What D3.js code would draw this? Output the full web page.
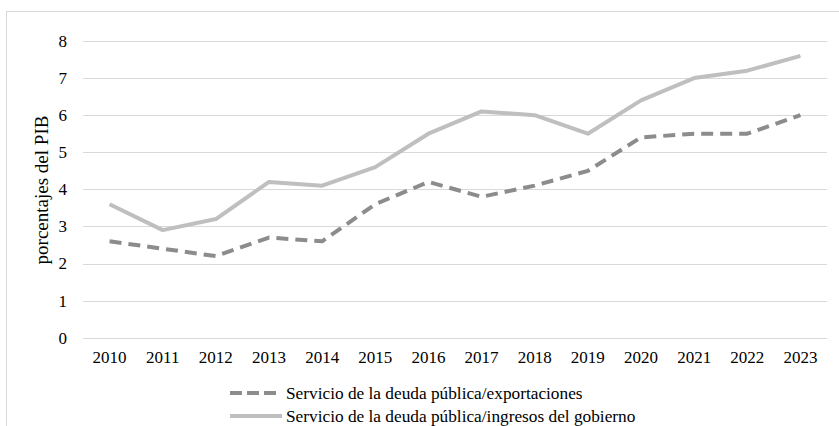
<!DOCTYPE html>
<html><head><meta charset="utf-8">
<script src="https://cdn.jsdelivr.net/npm/d3@7"></script>
<style>html,body{margin:0;padding:0;background:#fff;}svg{display:block;} svg text{font-family:"Liberation Serif","Times New Roman",serif !important;}</style>
</head><body>
<svg id="chart" width="839" height="426"></svg>
<script>
const years = ["2010","2011","2012","2013","2014","2015","2016","2017","2018","2019","2020","2021","2022","2023"];
const exportaciones = [2.6,2.4,2.2,2.7,2.6,3.6,4.2,3.8,4.1,4.5,5.4,5.5,5.5,6.0];
const ingresos = [3.6,2.9,3.2,4.2,4.1,4.6,5.5,6.1,6.0,5.5,6.4,7.0,7.2,7.6];
const yTicks = [0,1,2,3,4,5,6,7,8];
const seriesNames = ["Servicio de la deuda pública/exportaciones","Servicio de la deuda pública/ingresos del gobierno"];
const yLabel = "porcentajes del PIB";

const svg = d3.select("#chart");
svg.append("rect").attr("x",6.5).attr("y",11.5).attr("width",845).attr("height",440)
  .attr("fill","#fff").attr("stroke","#d9d9d9").attr("stroke-width",1);

const x = d3.scaleBand().domain(years).range([83,827]);
const y = d3.scaleLinear().domain([0,8]).range([337.7,41]);

svg.append("g").selectAll("line").data(yTicks).join("line")
  .attr("x1",83).attr("x2",827)
  .attr("y1",d=>Math.round(y(d))+0.5).attr("y2",d=>Math.round(y(d))+0.5)
  .attr("stroke","#d9d9d9").attr("stroke-width",1);

const yAxis = d3.axisLeft(y).tickValues(yTicks).tickSize(0).tickPadding(0).tickFormat(d3.format("d"));
const yg = svg.append("g").attr("transform","translate(67,0)").call(yAxis);
yg.select(".domain").remove();
yg.selectAll("text").attr("font-size",17).attr("fill","#000").attr("dy","0.32em");

const xAxis = d3.axisBottom(x).tickSize(0).tickPadding(0);
const xg = svg.append("g").attr("transform","translate(0,0)").call(xAxis);
xg.select(".domain").remove();
xg.selectAll("text").attr("font-size",17).attr("fill","#000").attr("y",363).attr("dy",0);

svg.append("text").attr("transform","translate(48,190) rotate(-90)")
  .attr("text-anchor","middle").attr("font-size",19).attr("fill","#000")
  .text(yLabel);

const line = d3.line().x((d,i)=>x(years[i])+x.bandwidth()/2).y(d=>y(d));

svg.append("path").datum(ingresos).attr("d",line).attr("fill","none")
  .attr("stroke","#bfbfbf").attr("stroke-width",4).attr("stroke-linejoin","round");
svg.append("path").datum(exportaciones).attr("d",line).attr("fill","none")
  .attr("stroke","#8c8c8c").attr("stroke-width",4).attr("stroke-dasharray","12,7").attr("stroke-linejoin","round");

const leg = svg.append("g");
const legRows = [
  {name:seriesNames[0], y:393, color:"#8c8c8c", dash:"12,5", x2:277},
  {name:seriesNames[1], y:416, color:"#bfbfbf", dash:null, x2:282}
];
legRows.forEach(r=>{
  leg.append("line").attr("x1",230).attr("x2",r.x2).attr("y1",r.y).attr("y2",r.y)
    .attr("stroke",r.color).attr("stroke-width",4).attr("stroke-dasharray",r.dash);
  leg.append("text").attr("x",286).attr("y",r.y).attr("dy","0.33em")
    .attr("font-size",17.3).attr("fill","#000").text(r.name);
});
</script>
</body></html>
